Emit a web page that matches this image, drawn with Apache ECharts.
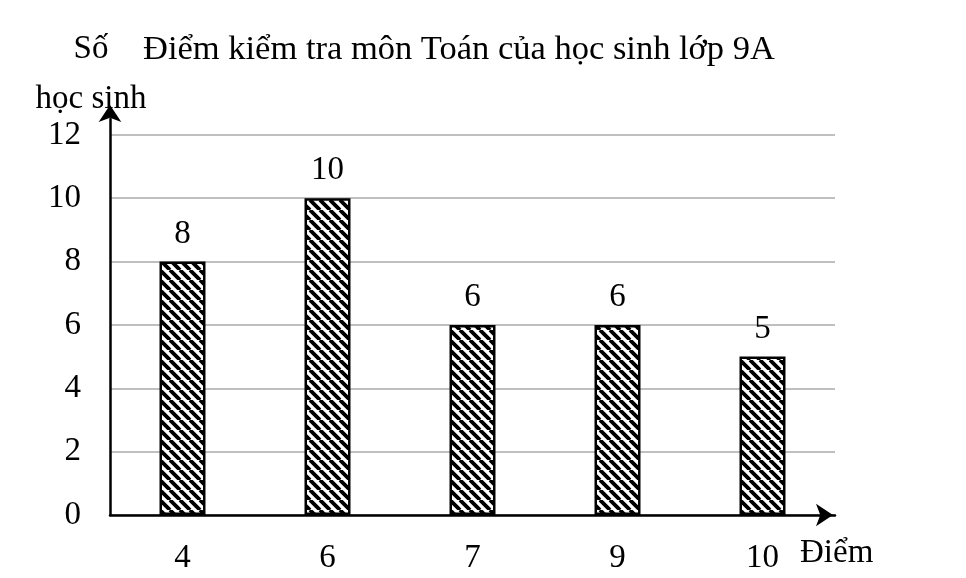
<!DOCTYPE html>
<html>
<head>
<meta charset="utf-8">
<script src="https://cdn.jsdelivr.net/npm/echarts@6/dist/echarts.min.js"></script>
<style>html,body{margin:0;padding:0;background:#fff}#c{width:966px;height:578px}</style>
</head>
<body>
<div id="c"></div>
<script>
const titleText = 'Điểm kiểm tra môn Toán của học sinh lớp 9A';
const categories = ['4', '6', '7', '9', '10'];
const studentCounts = [8, 10, 6, 6, 5];
const yTicks = [0, 2, 4, 6, 8, 10, 12];

function makeHatch() {
  const s = 10;
  const c = document.createElement('canvas');
  c.width = s; c.height = s;
  const g = c.getContext('2d');
  g.fillStyle = '#fff';
  g.fillRect(0, 0, s, s);
  g.strokeStyle = '#000';
  g.lineWidth = 3.8;
  g.beginPath();
  for (let k = -1; k <= 1; k++) {
    g.moveTo(k * s, 0);
    g.lineTo(k * s + s, s);
  }
  g.stroke();
  return c;
}

const font = 'Liberation Serif';
const fs = 33;
const chart = echarts.init(document.getElementById('c'), null, { devicePixelRatio: 1 });
chart.setOption({
  animation: false,
  backgroundColor: '#fff',
  textStyle: { fontFamily: font, color: '#000' },
  title: {
    text: titleText,
    left: 138, top: 27,
    textStyle: { fontFamily: font, fontSize: 34.5, fontWeight: 'normal', color: '#000' }
  },
  grid: { left: 110, right: 131, top: 119, bottom: 63, containLabel: false },
  xAxis: {
    type: 'category',
    data: categories,
    name: 'Điểm',
    nameLocation: 'end',
    nameGap: -35,
    nameMoveOverlap: false,
    nameTextStyle: { fontFamily: font, fontSize: fs, color: '#000', align: 'left', verticalAlign: 'top', padding: [22, 0, 0, 0] },
    axisLine: { show: true, lineStyle: { color: '#000', width: 2.5 }, symbol: ['none', 'arrow'], symbolSize: [17, 17], symbolOffset: [0, -2] },
    axisTick: { show: false },
    axisLabel: { fontFamily: font, fontSize: fs, color: '#000', margin: 27 }
  },
  yAxis: {
    type: 'value',
    min: yTicks[0], max: 12.5, interval: yTicks[1] - yTicks[0],
    name: 'Số\nhọc sinh',
    nameLocation: 'end',
    nameGap: -5,
    nameMoveOverlap: false,
    nameTextStyle: { fontFamily: font, fontSize: fs, color: '#000', align: 'center', lineHeight: 50, padding: [0, 38, 0, 0] },
    axisLine: { show: true, lineStyle: { color: '#000', width: 2.5 }, symbol: ['none', 'arrow'], symbolSize: [17, 17], symbolOffset: [0, 14] },
    axisTick: { show: false },
    axisLabel: { fontFamily: font, fontSize: fs, color: '#000', margin: 29, showMaxLabel: false },
    splitLine: { showMaxLine: false, lineStyle: { color: '#bfbfbf', width: 2 } }
  },
  series: [{
    type: 'bar',
    data: studentCounts,
    barWidth: 46,
    itemStyle: {
      color: { image: makeHatch(), repeat: 'repeat' },
      borderColor: '#000',
      borderWidth: 2.5
    },
    label: { show: true, position: 'top', distance: 11, fontFamily: font, fontSize: fs, color: '#000' }
  }]
});
</script>
</body>
</html>
